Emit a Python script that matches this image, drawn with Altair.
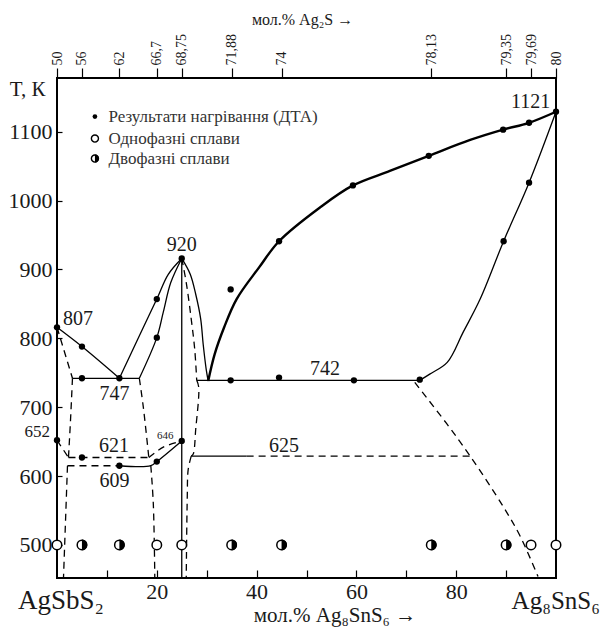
import altair as alt
import pandas as pd

FONT = "Liberation Serif, DejaVu Serif, serif"
INK = "#1a1a1a"

# ---------------- axes ----------------
x_domain = [0, 100]
y_domain = [452, 1178]
y_ticks = [500, 600, 700, 800, 900, 1000, 1100]
x_ticks = [10, 20, 30, 40, 50, 60, 70, 80, 90]
x_labeled = [20, 40, 60, 80]
top_pos = [0, 5, 12.5, 20, 25, 35, 45, 75, 90, 95, 100]
top_lab = ["50", "56", "62", "66,7", "68,75", "71,88", "74", "78,13", "79,35", "79,69", "80"]

# ---------------- DTA points (filled) ----------------
dta_x = [0, 5, 5, 12.5, 20, 20, 25, 0, 5, 12.5, 20, 25,
         34.8, 44.5, 59.5, 72.7, 34.8, 44.5, 59.3, 74.5, 89.4, 94.6, 100, 89.5, 94.6]
dta_T = [816, 788, 742, 742, 857, 801, 916, 652, 627, 615, 621, 651,
         739, 743, 739, 740, 871, 941, 1022, 1065, 1103, 1113, 1129, 941, 1026]

# ---------------- alloy samples at 500 K ----------------
single_x = [0, 20, 25, 95, 100]
two_x = [5, 12.5, 35, 45, 75, 90]
sample_T = 500

# ---------------- phase lines ----------------
liq_left_x = [0, 5, 12.5]
liq_left_T = [816, 788, 742]
eut747_x = [3.1, 16.5]
eut747_T = [742, 742]
outer_x = [12.5, 16.2, 20, 22.3, 25]
outer_T = [742, 799, 857, 893, 916]
inner_x = [16.5, 20, 21.3, 22.8, 25]
inner_T = [742, 801, 838, 881, 916]
vert25_x = [25, 25]
vert25_T = [916, 452]
peakright_x = [25, 26.7, 27.8, 28.8, 29.3, 29.9, 30.3]
peakright_T = [916, 893, 864, 828, 791, 755, 738]
liq_main_x = [30.3, 31.6, 33.5, 36, 40.5, 44.5, 52.7, 59.3, 66.7, 74.5, 82.8, 89.4, 94.6, 100]
liq_main_T = [738, 777, 816, 857, 903, 941, 990, 1022, 1043, 1065, 1088, 1103, 1113, 1129]
per742_x = [28.0, 72.7]
per742_T = [739, 739]
right_low_x = [72.7, 74.7, 78.2, 81.4, 84.8, 89.5, 94.6, 100]
right_low_T = [739, 748, 765, 809, 857, 941, 1026, 1129]
l625_solid_x = [26.9, 38]
l625_solid_T = [629, 629]
l609_solid_x = [12.5, 18.8, 20, 25]
l609_solid_T = [615, 615, 621, 651]

d807_x = [0, 3.1]
d807_T = [816, 742]
dleft_x = [3.1, 2.7, 2.3]
dleft_T = [742, 680, 627]
d652_x = [0, 2.3]
d652_T = [652, 627]
l621_x = [2.3, 18.4]
l621_T = [627, 627]
l609_x = [2.1, 12.5]
l609_T = [615, 615]
dleft_low_x = [2.1, 1.3]
dleft_low_T = [615, 452]
dmid_x = [16.5, 17.3, 18.4]
dmid_T = [742, 700, 627]
dmid_low_x = [18.8, 19.3, 19.6]
dmid_low_T = [615, 560, 452]
lens_up_x = [18.4, 21.3, 25]
lens_up_T = [627, 642, 651]
peakdash_x = [25, 25.9, 26.9, 27.6, 28.0]
peakdash_T = [916, 881, 828, 784, 739]
dash742_x = [28.0, 28.4, 27.8, 27.3, 26.9]
dash742_T = [739, 729, 668, 632, 629]
dash625_x = [26.9, 26.3, 26.1, 25.9]
dash625_T = [629, 610, 567, 452]
l625_dash_x = [38, 82.8]
l625_dash_T = [629, 629]
right_dash_x = [71.7, 78.1, 82.8, 89.4, 92.8, 96.4]
right_dash_T = [736, 676, 629, 556, 513, 454]

solid_lines = [(liq_left_x, liq_left_T), (eut747_x, eut747_T), (outer_x, outer_T),
               (inner_x, inner_T), (vert25_x, vert25_T), (peakright_x, peakright_T),
               (per742_x, per742_T), (right_low_x, right_low_T), (l625_solid_x, l625_solid_T),
               (l609_solid_x, l609_solid_T)]
thick_lines = [(liq_main_x, liq_main_T)]
dashed_lines = [(d807_x, d807_T), (dleft_x, dleft_T), (d652_x, d652_T), (l621_x, l621_T),
                (l609_x, l609_T), (dleft_low_x, dleft_low_T), (dmid_x, dmid_T),
                (dmid_low_x, dmid_low_T), (lens_up_x, lens_up_T),
                (peakdash_x, peakdash_T), (dash742_x, dash742_T), (dash625_x, dash625_T),
                (l625_dash_x, l625_dash_T), (right_dash_x, right_dash_T)]

# ---------------- texts ----------------
ann_text = ["807", "747", "920", "621", "609", "625", "742", "1121"]
ann_x = [4.2, 11.5, 25, 11.4, 11.5, 45.5, 53.7, 94.9]
ann_T = [828, 719, 936, 643, 593, 643, 755, 1143]

legend_labels = ["Результати нагрівання (ДТА)", "Однофазні сплави", "Двофазні сплави"]
legend_T = [1122, 1090, 1061]
legend_mx = 7.6
legend_tx = 10.3

# ---------------- build ----------------
xs = alt.Scale(domain=x_domain, nice=False, zero=False)
ys = alt.Scale(domain=y_domain, nice=False, zero=False)


def X(axis=None):
    return alt.X("x:Q", scale=xs, axis=axis)


def Y(axis=None):
    return alt.Y("T:Q", scale=ys, axis=axis)


def line_df(lines):
    rows = []
    for k, (lx, lt) in enumerate(lines):
        for i, (a, b) in enumerate(zip(lx, lt)):
            rows.append({"id": k, "i": i, "x": a, "T": b})
    return pd.DataFrame(rows)


def line_layer(lines, **kw):
    return alt.Chart(line_df(lines)).mark_line(
        interpolate="catmull-rom", color="black", **kw
    ).encode(x=X(), y=Y(), detail="id:N", order="i:Q")


def text_layer(xv, tv, txt, size, align="center", color=INK):
    df = pd.DataFrame({"x": xv, "T": tv, "t": txt})
    return alt.Chart(df).mark_text(font=FONT, fontSize=size, color=color, align=align,
                                   baseline="middle").encode(x=X(), y=Y(), text="t:N")


solid = line_layer(solid_lines, strokeWidth=1.3)
thick = line_layer(thick_lines, strokeWidth=2.4)
dashed = line_layer(dashed_lines, strokeWidth=1.3, strokeDash=[7, 5])

bottom_axis = alt.Axis(
    orient="bottom", values=x_ticks, offset=-8, tickSize=8, domain=False, grid=False,
    labelExpr="indexof([" + ",".join(str(v) for v in x_labeled) + "], datum.value) >= 0 ? datum.label : ''",
    labelFont=FONT, labelFontSize=22, labelColor=INK, labelPadding=3,
    tickColor="black", tickWidth=1.2, title=None,
)
left_axis = alt.Axis(
    orient="left", values=y_ticks, offset=-5, tickSize=5, domain=False, grid=False,
    format="d",
    labelFont=FONT, labelFontSize=22, labelColor=INK, labelPadding=5,
    tickColor="black", tickWidth=1.2, title=None,
)
top_expr = ""
for p, lab in zip(top_pos, top_lab):
    top_expr += "datum.value == " + str(p) + " ? '" + lab + "' : "
top_expr += "''"
top_axis = alt.Axis(
    orient="top", values=top_pos, tickSize=10, domain=False, grid=False,
    labelExpr=top_expr, labelAngle=270, labelFont=FONT, labelFontSize=14,
    labelColor=INK, labelPadding=3, tickColor="black", tickWidth=1.2,
    title="мол.% Ag₂S   →", titleFont=FONT, titleFontSize=16, titleFontWeight="normal",
    titleColor=INK, titlePadding=6, titleX=245,
)

dta_df = pd.DataFrame({"x": dta_x, "T": dta_T})
dta = alt.Chart(dta_df).mark_point(filled=True, color="black", size=40, opacity=1).encode(
    x=X(bottom_axis), y=Y(left_axis)
)

top_df = pd.DataFrame({"x": top_pos, "T": [y_domain[1]] * len(top_pos)})
top_layer = alt.Chart(top_df).mark_point(opacity=0).encode(x=X(top_axis), y=Y())

single_df = pd.DataFrame({"x": single_x, "T": [sample_T] * len(single_x)})
two_df = pd.DataFrame({"x": two_x, "T": [sample_T] * len(two_x)})
open_c = alt.Chart(pd.concat([single_df, two_df])).mark_point(
    shape="circle", filled=True, fill="white", stroke="black", strokeWidth=1.5, size=90, opacity=1
).encode(x=X(), y=Y())
half_c = alt.Chart(two_df).mark_point(
    shape="M0,-1 A1,1 0 0,1 0,1 Z", filled=True, color="black", size=115, opacity=1
).encode(x=X(), y=Y())

ann = text_layer(ann_x, ann_T, ann_text, 20)
small_ann = text_layer([21.7], [658], ["646"], 11)
ann652 = text_layer([-1.4], [664], ["652"], 17, align="right")
tk = text_layer([-5.9], [1161], ["T, К"], 21)
comp_l = text_layer([0.8], [419], ["AgSbS₂"], 27)
comp_r = text_layer([108.8], [419], ["Ag₈SnS₆"], 25, align="right")
xtitle = text_layer([55.7], [397], ["мол.% Ag₈SnS₆ →"], 21)

leg_df = pd.DataFrame({"x": [legend_mx] * 3, "T": legend_T, "t": legend_labels, "tx": [legend_tx] * 3})
leg_text = alt.Chart(leg_df).mark_text(font=FONT, fontSize=17, color="#333", align="left", baseline="middle").encode(
    x=alt.X("tx:Q", scale=xs, axis=None), y=Y(), text="t:N")
leg_dot = alt.Chart(leg_df.iloc[[0]]).mark_point(filled=True, color="black", size=22, opacity=1).encode(x=X(), y=Y())
leg_open = alt.Chart(leg_df.iloc[[1, 2]]).mark_point(
    shape="circle", filled=True, fill="white", stroke="black", strokeWidth=1.4, size=50, opacity=1
).encode(x=X(), y=Y())
leg_half = alt.Chart(leg_df.iloc[[2]]).mark_point(
    shape="M0,-1 A1,1 0 0,1 0,1 Z", filled=True, color="black", size=64, opacity=1
).encode(x=X(), y=Y())

chart = alt.layer(
    top_layer, solid, thick, dashed, dta, open_c, half_c, ann, small_ann, ann652, tk,
    comp_l, comp_r, xtitle, leg_text, leg_dot, leg_open, leg_half
).resolve_axis(x="independent", y="independent").properties(
    width=499, height=500,
    autosize=alt.AutoSizeParams(type="none"),
    padding={"left": 57, "top": 78, "right": 47, "bottom": 52},
    background="white",
).configure_view(stroke="black", strokeWidth=2)

chart.save("out.html", embed_options={"renderer": "svg", "actions": False})
